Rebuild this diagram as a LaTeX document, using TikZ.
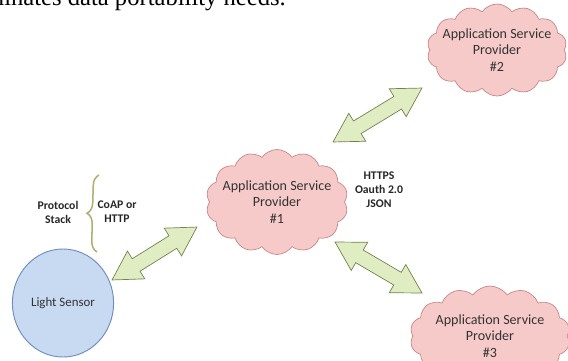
\documentclass[tikz,border=0pt]{standalone}
\usepackage{fontspec}
\setmainfont{Carlito}
\newfontfamily\papertext{Liberation Serif}
\usetikzlibrary{shapes,shapes.arrows,shapes.symbols,shapes.geometric,positioning,calc,decorations.pathreplacing}

\definecolor{cloudfill}{RGB}{247,202,202}
\definecolor{cloudline}{RGB}{200,135,135}
\definecolor{sensorfill}{RGB}{200,218,242}
\definecolor{sensorline}{RGB}{110,140,190}
\definecolor{arrowfill}{RGB}{224,237,195}
\definecolor{arrowline}{RGB}{115,130,80}
\definecolor{bracecol}{RGB}{175,175,115}

% fat two-headed arrow between two points: name, from, to
\newcommand{\fatarrow}[3]{%
  \path let \p1=($(#3)-(#2)$), \n1={veclen(\x1,\y1)}, \n2={atan2(\y1,\x1)} in
    node[link, minimum height=\n1, rotate=\n2] (#1) at ($(#2)!0.5!(#3)$) {};}

\begin{document}
\begin{tikzpicture}[x=0.03cm, y=-0.03cm,
        asp/.style={cloud, cloud puffs=14, cloud puff arc=110, cloud ignores aspect, draw=cloudline, fill=cloudfill, line width=0.6pt, inner sep=0pt},
        asptext/.style={align=center, font=\fontsize{12}{14}\selectfont, text=black!80},
        sensor/.style={ellipse, draw=sensorline, fill=sensorfill, line width=0.8pt, minimum width=3.0cm, minimum height=3.24cm, font=\fontsize{11}{13}\selectfont, text=black!80},
        link/.style={double arrow, draw=arrowline, fill=arrowfill, line width=0.6pt, inner sep=0pt, text height=0.21cm, text depth=0.21cm, text width=0pt, double arrow head extend=0.27cm, double arrow tip angle=60},
        tag/.style={align=center, font=\bfseries\fontsize{10}{12}\selectfont, text=black!85}]

    \useasboundingbox (0,0) rectangle (568,360);
    \clip (0,0) rectangle (568,360);

    % Line of the page above
    \node[anchor=base east, inner sep=0pt, font=\papertext\fontsize{21}{24}\selectfont] (pageline) at (286,5) {eliminates data portability needs.};

    % Sensor and providers
    \node[sensor] (sensor) at (63,303) {Light Sensor};
    \node[asp, minimum width=4.26cm, minimum height=3.15cm] (asp1) at (277,202) {};
    \node[asp, minimum width=4.2cm, minimum height=2.76cm] (asp2) at (497,50) {};
    \node[asp, minimum width=4.8cm, minimum height=3.0cm] (asp3) at (490,336) {};
    \node[asptext] (asp1text) at (asp1) {Application Service\\Provider\\\#1};
    \node[asptext] (asp2text) at (asp2) {Application Service\\Provider\\\#2};
    \node[asptext] (asp3text) at (asp3) {Application Service\\Provider\\\#3};

    % Protocol stack
    \coordinate (stacklow) at (97,252);
    \coordinate (stackhigh) at (99,175);
    \draw[decorate, decoration={brace, amplitude=0.33cm}, draw=bracecol, line width=1.3pt] (stacklow) -- (stackhigh);
    \node[tag] (stack) at (58,212) {Protocol\\Stack};
    \node[tag] (coap) at (117,212) {CoAP or\\HTTP};
    \node[tag] (https) at (379,190) {HTTPS\\Oauth 2.0\\JSON};

    % Arrows
    \coordinate (a1) at (112,280);
    \coordinate (b1) at (197,227);
    \coordinate (a2) at (333,142);
    \coordinate (b2) at (422,88);
    \coordinate (a3) at (335,242);
    \coordinate (b3) at (422,293);
    \fatarrow{link1}{a1}{b1}
    \fatarrow{link2}{a2}{b2}
    \fatarrow{link3}{a3}{b3}

\end{tikzpicture}
\end{document}
